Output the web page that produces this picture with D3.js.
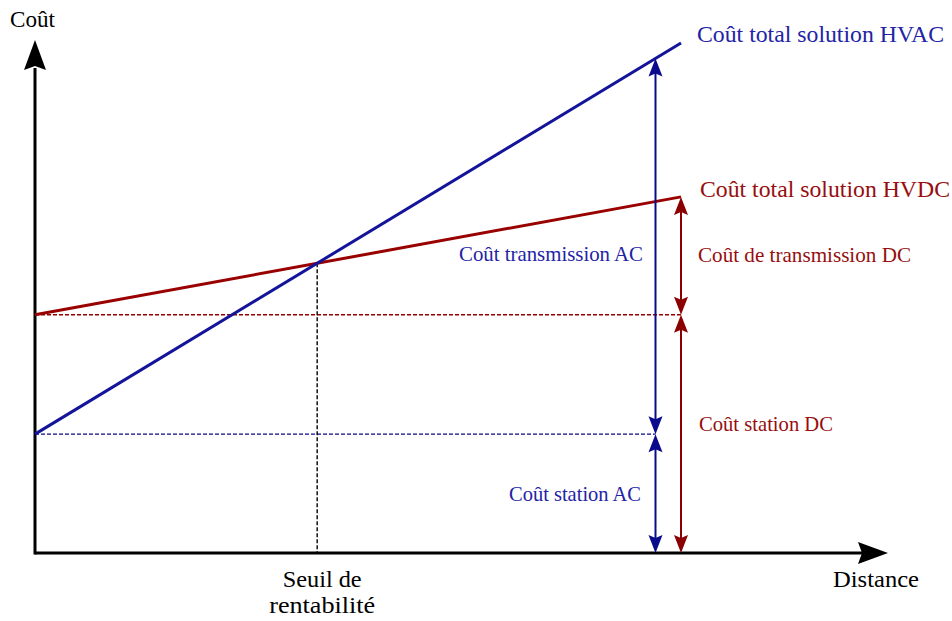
<!DOCTYPE html>
<html><head><meta charset="utf-8">
<script src="https://cdn.jsdelivr.net/npm/d3@7"></script>
<style>body{margin:0;background:#fff}svg{display:block}text{font-family:"Liberation Serif","DejaVu Serif",serif}</style>
</head><body>
<svg id="c" width="952" height="621"></svg>
<script>
// Schematic data (arbitrary units)
const distance = [0, 7.6];            // x extent of the cost lines
const hvacCost = [23.4, 100.4];       // HVAC total cost at distance[0], distance[1]
const hvdcCost = [46.9, 70.1];        // HVDC total cost at distance[0], distance[1]
const acStation = 23.4;
const dcStation = 46.9;
const acArrowX = 7.3;
const dcArrowX = 7.6;
const labels = {
  yAxis: "Coût", xAxis: "Distance",
  hvac: "Coût total solution HVAC", hvdc: "Coût total solution HVDC",
  acTrans: "Coût transmission AC", dcTrans: "Coût de transmission DC",
  acStation: "Coût station AC", dcStation: "Coût station DC",
  breakeven: ["Seuil de", "rentabilité"]
};

const svg = d3.select("#c");
const x = d3.scaleLinear().domain([0, 10]).range([35, 885]);
const y = d3.scaleLinear().domain([0, 100]).range([553, 45]);

const blue = "#14149a", blueA = "#0a0a8c", red = "#990000", redA = "#8b0000";
const blueT = "#2323a6", redT = "#960e0e";

const acLine = v => hvacCost[0] + (hvacCost[1]-hvacCost[0])*(v-distance[0])/(distance[1]-distance[0]);
const dcLine = v => hvdcCost[0] + (hvdcCost[1]-hvdcCost[0])*(v-distance[0])/(distance[1]-distance[0]);
// intersection
const sA = (hvacCost[1]-hvacCost[0])/(distance[1]-distance[0]);
const sD = (hvdcCost[1]-hvdcCost[0])/(distance[1]-distance[0]);
const xi = (hvdcCost[0]-hvacCost[0])/(sA-sD);
const yi = acLine(xi);

// dashed guides
svg.append("line").attr("x1", x(0)).attr("x2", x(dcArrowX)).attr("y1", y(dcStation)).attr("y2", y(dcStation))
  .attr("stroke", red).attr("stroke-width", 1.4).attr("stroke-dasharray", "4,2");
svg.append("line").attr("x1", x(0)).attr("x2", x(acArrowX)).attr("y1", y(acStation)).attr("y2", y(acStation))
  .attr("stroke", blueA).attr("stroke-width", 1.4).attr("stroke-dasharray", "4,2");
svg.append("line").attr("x1", x(xi)).attr("x2", x(xi)).attr("y1", y(yi)).attr("y2", y(0))
  .attr("stroke", "#000").attr("stroke-width", 1.4).attr("stroke-dasharray", "4,2");

// axes
const axisW = 3;
svg.append("line").attr("x1", x(0)).attr("x2", 862).attr("y1", y(0)).attr("y2", y(0)).attr("stroke", "#000").attr("stroke-width", axisW);
svg.append("line").attr("x1", x(0)).attr("x2", x(0)).attr("y1", y(0)+1.5).attr("y2", 68).attr("stroke", "#000").attr("stroke-width", axisW);
function arrowHead(tx, ty, ang, len, wid, notch, color) {
  const p = [[0,0],[-len,-wid/2],[-len+notch,0],[-len,wid/2]];
  const c = Math.cos(ang), s = Math.sin(ang);
  const pts = p.map(([a,b]) => [tx + a*c - b*s, ty + a*s + b*c]);
  svg.append("path").attr("d", "M" + pts.map(q => q.join(",")).join("L") + "Z").attr("fill", color);
}
arrowHead(888, y(0), 0, 30, 22, 4, "#000");
arrowHead(x(0), 40, -Math.PI/2, 30, 22, 4, "#000");

// cost lines
const lineGen = d3.line().x(d => x(d[0])).y(d => y(d[1]));
svg.append("path").attr("d", lineGen(distance.map((d,i)=>[d, hvdcCost[i]]))).attr("fill","none").attr("stroke", red).attr("stroke-width", 3);
svg.append("path").attr("d", lineGen(distance.map((d,i)=>[d, hvacCost[i]]))).attr("fill","none").attr("stroke", blue).attr("stroke-width", 3);

// double-headed dimension arrows
function dim(xv, v0, v1, color) {
  const X = x(xv), Y0 = y(v0), Y1 = y(v1);
  svg.append("line").attr("x1", X).attr("x2", X).attr("y1", Y0-4).attr("y2", Y1+4).attr("stroke", color).attr("stroke-width", 2);
  arrowHead(X, Y0, Math.PI/2, 18, 14, 3, color);
  arrowHead(X, Y1, -Math.PI/2, 18, 14, 3, color);
}
dim(acArrowX, 0, acStation, blueA);
dim(acArrowX, acStation, acLine(acArrowX), blueA);
dim(dcArrowX, 0, dcStation, redA);
dim(dcArrowX, dcStation, dcLine(dcArrowX), redA);

// labels
const T = (t, px, py, size, color, anchor, len) => {
  const e = svg.append("text").attr("x", px).attr("y", py)
    .attr("font-size", size).attr("fill", color).attr("text-anchor", anchor || "start").text(t);
  if (len) e.attr("textLength", len).attr("lengthAdjust", "spacingAndGlyphs");
  return e;
};
T(labels.yAxis, 10, 27, 23.5, "#000", "start", 45);
T(labels.xAxis, 833, 587, 24, "#000", "start", 86);
T(labels.hvac, 697, 42, 23.8, blueT, "start", 247);
T(labels.hvdc, 700, 197, 23.8, redT, "start", 250);
T(labels.acTrans, 643, 261, 21, blueT, "end", 184);
T(labels.dcTrans, 698, 262, 21, redT, "start", 213);
T(labels.dcStation, 699, 431, 21, redT, "start", 134);
T(labels.acStation, 641, 501, 21, blueT, "end", 132);
T(labels.breakeven[0], x(xi) + 5, 587, 24, "#000", "middle", 79);
T(labels.breakeven[1], x(xi) + 5, 613, 24, "#000", "middle", 106);
</script>
</body></html>
